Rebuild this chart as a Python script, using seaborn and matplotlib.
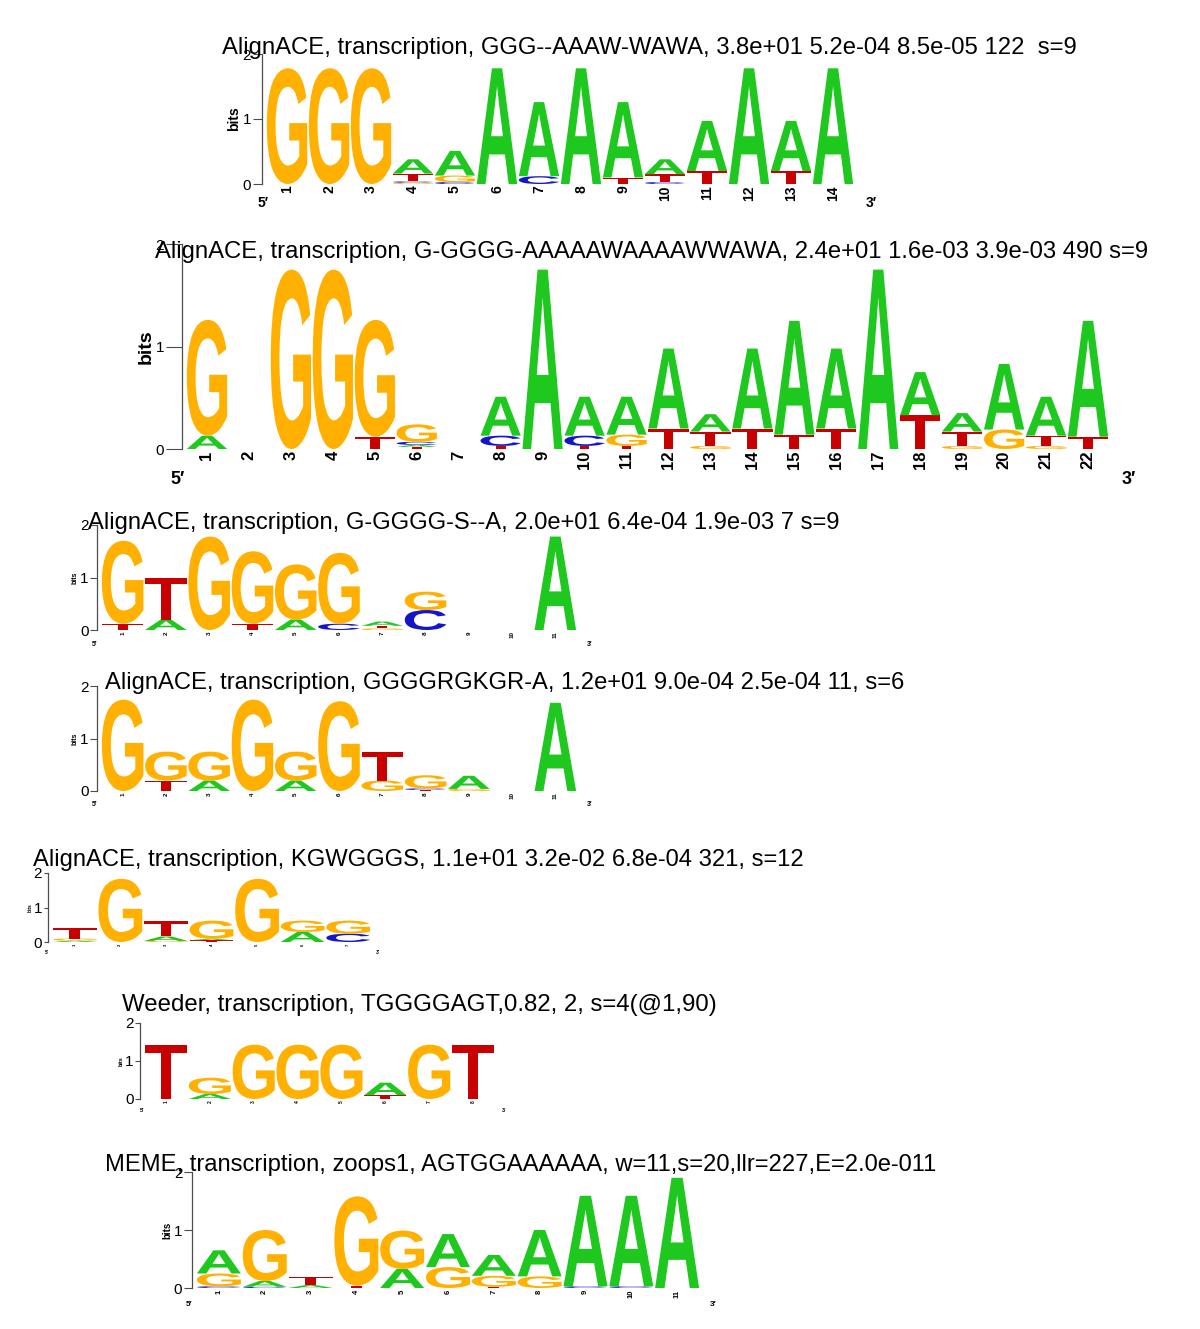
import matplotlib
matplotlib.use('Agg')
import matplotlib.pyplot as plt
import seaborn as sns
from matplotlib.textpath import TextPath
from matplotlib.patches import PathPatch
from matplotlib.font_manager import FontProperties
from matplotlib import transforms

# ---- data: each column is a stack of (letter, bits), bottom to top ----
titles = [
    "AlignACE, transcription, GGG--AAAW-WAWA, 3.8e+01 5.2e-04 8.5e-05 122  s=9",
    "AlignACE, transcription, G-GGGG-AAAAAWAAAAWWAWA, 2.4e+01 1.6e-03 3.9e-03 490 s=9",
    "AlignACE, transcription, G-GGGG-S--A, 2.0e+01 6.4e-04 1.9e-03 7 s=9",
    "AlignACE, transcription, GGGGRGKGR-A, 1.2e+01 9.0e-04 2.5e-04 11, s=6",
    "AlignACE, transcription, KGWGGGS, 1.1e+01 3.2e-02 6.8e-04 321, s=12",
    "Weeder, transcription, TGGGGAGT,0.82, 2, s=4(@1,90)",
    "MEME, transcription, zoops1, AGTGGAAAAAA, w=11,s=20,llr=227,E=2.0e-011",
]

logo1 = [
    [('G', 1.78)], [('G', 1.78)], [('G', 1.78)],
    [('G', .02), ('C', .02), ('T', .12), ('A', .22)],
    [('C', .03), ('G', .10), ('A', .38)],
    [('A', 1.78)],
    [('C', .12), ('A', 1.14)],
    [('A', 1.78)],
    [('T', .10), ('A', 1.16)],
    [('C', .03), ('T', .12), ('A', .23)],
    [('T', .20), ('A', .77)],
    [('A', 1.78)],
    [('T', .20), ('A', .77)],
    [('A', 1.78)],
]

logo2 = [
    [('A', .13), ('G', 1.13)],
    [],
    [('G', 1.75)],
    [('G', 1.75)],
    [('T', .12), ('G', 1.14)],
    [('T', .02), ('A', .02), ('C', .03), ('G', .17)],
    [],
    [('T', .03), ('C', .10), ('A', .38)],
    [('A', 1.75)],
    [('T', .03), ('C', .10), ('A', .38)],
    [('T', .03), ('G', .11), ('A', .37)],
    [('T', .20), ('A', .78)],
    [('G', .03), ('T', .14), ('A', .17)],
    [('T', .20), ('A', .78)],
    [('T', .14), ('A', 1.11)],
    [('T', .20), ('A', .78)],
    [('A', 1.75)],
    [('T', .33), ('A', .42)],
    [('G', .03), ('T', .14), ('A', .18)],
    [('G', .19), ('A', .64)],
    [('G', .03), ('T', .10), ('A', .38)],
    [('T', .12), ('A', 1.13)],
]

logo3 = [
    [('T', .12), ('G', 1.58)],
    [('A', .20), ('T', .80)],
    [('G', 1.78)],
    [('T', .12), ('G', 1.38)],
    [('A', .20), ('G', 1.05)],
    [('C', .12), ('G', 1.35)],
    [('G', .03), ('T', .05), ('A', .08)],
    [('C', .38), ('G', .35)],
    [],
    [],
    [('A', 1.78)],
]

logo4 = [
    [('G', 1.74)],
    [('T', .20), ('G', .55)],
    [('A', .20), ('G', .55)],
    [('G', 1.74)],
    [('A', .20), ('G', .55)],
    [('G', 1.71)],
    [('G', .20), ('T', .54)],
    [('T', .02), ('C', .03), ('G', .25)],
    [('G', .04), ('A', .25)],
    [],
    [('A', 1.68)],
]

logo5 = [
    [('A', .04), ('G', .06), ('T', .30)],
    [('G', 1.83)],
    [('G', .03), ('A', .13), ('T', .44)],
    [('T', .05), ('A', .04), ('G', .53)],
    [('G', 1.83)],
    [('A', .29), ('G', .33)],
    [('C', .24), ('G', .38)],
]

logo6 = [
    [('T', 1.43)],
    [('A', .13), ('G', .43)],
    [('G', 1.43)],
    [('G', 1.43)],
    [('G', 1.43)],
    [('T', .10), ('A', .33)],
    [('G', 1.43)],
    [('T', 1.43)],
]

logo7 = [
    [('C', .03), ('G', .22), ('A', .40)],
    [('C', .02), ('A', .10), ('G', .88)],
    [('A', .05), ('T', .14)],
    [('T', .04), ('G', 1.54)],
    [('A', .33), ('G', .66)],
    [('G', .36), ('A', .57)],
    [('T', .02), ('G', .19), ('A', .36)],
    [('G', .20), ('A', .80)],
    [('C', .03), ('A', 1.56)],
    [('C', .03), ('A', 1.56)],
    [('A', 1.90)],
]

logos = [logo1, logo2, logo3, logo4, logo5, logo6, logo7]
letter_colors = {'A': '#1fc81f', 'C': '#1414c8', 'G': '#ffb000', 'T': '#c80000'}

# ---- layout in pixels: letter area left/right, y of 0 bits, y of 2 bits,
# title (x, y, right end), font sizes (ticks, bits, positions, primes),
# 5'/3' label positions
layout = [
    dict(l=266, r=854, y0=184, y2=54, title=(222, 48, 1077), fs=(7.5, 10, 10, 10), p5=(258, 203), p3=(866, 203)),
    dict(l=186, r=1109, y0=449, y2=244, title=(155, 252, 1150), fs=(13, 14, 12, 13), p5=(170, 480), p3=(1122, 480)),
    dict(l=101, r=577, y0=630, y2=525, title=(88, 523, 840), fs=(5.5, 5, 4.5, 5), p5=(92, 645), p3=(587, 645)),
    dict(l=101, r=577, y0=791, y2=686, title=(105, 683, 907), fs=(5.5, 5, 4.5, 5), p5=(92, 805), p3=(587, 805)),
    dict(l=52, r=371, y0=942, y2=873, title=(33, 860, 805), fs=(3.5, 3.5, 3, 3.5), p5=(45, 952), p3=(376, 952)),
    dict(l=144, r=495, y0=1099, y2=1023, title=(122, 1005, 716), fs=(4, 4, 3.5, 4), p5=(140, 1110), p3=(502, 1110)),
    dict(l=196, r=700, y0=1288, y2=1172, title=(105, 1165, 938), fs=(6.5, 7, 5.5, 6), p5=(186, 1305), p3=(710, 1305)),
]

sns.set_theme(style='white')
plt.rcParams['font.family'] = ['Liberation Sans', 'DejaVu Sans']
plt.rcParams['text.color'] = 'black'
plt.rcParams['axes.labelcolor'] = 'black'
plt.rcParams['xtick.color'] = 'black'
plt.rcParams['ytick.color'] = 'black'

W, H = 1200, 1329
fig = plt.figure(figsize=(W / 100, H / 100), dpi=100)


def fx(x):
    return x / W


def fy(y):
    return 1 - y / H


letter_font = FontProperties(family='Liberation Sans', weight='bold')
glyph_cache = {}


def draw_letter(ax, ch, xc, ybot, w, h):
    if ch not in glyph_cache:
        glyph_cache[ch] = TextPath((0, 0), ch, size=1, prop=letter_font)
    tp = glyph_cache[ch]
    bb = tp.get_extents()
    t = (transforms.Affine2D()
         .translate(-bb.x0, -bb.y0)
         .scale(w / bb.width, h / bb.height)
         .translate(xc - w / 2, ybot))
    ax.add_patch(PathPatch(t.transform_path(tp), facecolor=letter_colors[ch],
                           edgecolor='none', lw=0))


title_artists = []
for logo, title, lay in zip(logos, titles, layout):
    n = len(logo)
    ax = fig.add_axes([fx(lay['l']), fy(lay['y0']),
                       (lay['r'] - lay['l']) / W, (lay['y0'] - lay['y2']) / H])
    ax.patch.set_alpha(0)
    ax.set_xlim(0.5, n + 0.5)
    ax.set_ylim(0, 2)

    for i, stack in enumerate(logo, start=1):
        bottom = 0.0
        for ch, h in stack:
            draw_letter(ax, ch, i, bottom, 0.96, h)
            bottom += h

    fs_tick, fs_bits, fs_pos, fs_prime = lay['fs']
    ax.set_yticks([0, 1, 2])
    ax.set_yticklabels(['0', '1', '2'], fontsize=fs_tick)
    ax.tick_params(axis='y', left=True, length=fs_tick * 0.9, width=0.8,
                   color='0.3', pad=1)
    ax.set_xticks(range(1, n + 1))
    ax.set_xticklabels([str(i) for i in range(1, n + 1)], rotation=90,
                       fontsize=fs_pos, fontweight='bold')
    ax.tick_params(axis='x', bottom=False, length=0, pad=1)
    ax.set_ylabel('bits', fontsize=fs_bits, fontweight='bold', labelpad=1)
    sns.despine(ax=ax, bottom=True, offset={'left': 3})
    ax.spines['left'].set_color('0.3')
    ax.spines['left'].set_linewidth(0.9)
    ax.grid(False)

    fig.text(fx(lay['p5'][0]), fy(lay['p5'][1]), "5\u2032", fontsize=fs_prime,
             fontweight='bold', ha='left', va='center')
    fig.text(fx(lay['p3'][0]), fy(lay['p3'][1]), "3\u2032", fontsize=fs_prime,
             fontweight='bold', ha='left', va='center')

    tx, ty, tend = lay['title']
    t = fig.text(fx(tx), fy(ty), title, fontsize=16, ha='left', va='center')
    title_artists.append((t, tend - tx))

# stretch each title to its width in the reference
fig.canvas.draw()
renderer = fig.canvas.get_renderer()
for t, target in title_artists:
    width = t.get_window_extent(renderer).width
    t.set_fontsize(16 * target / width)

fig.savefig('out.png', dpi=100)
